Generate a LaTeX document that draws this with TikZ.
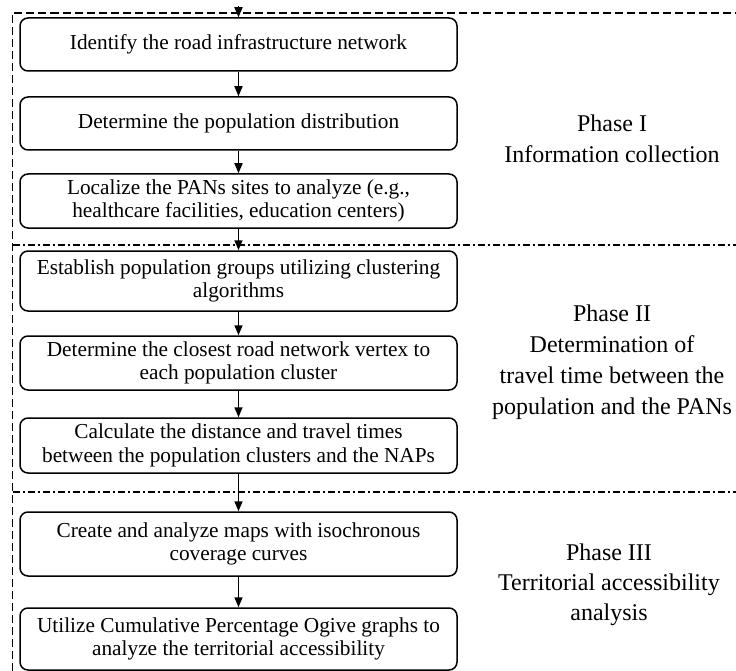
\documentclass[tikz,border=0pt]{standalone}
\usepackage{fontspec}
\setmainfont{Liberation Serif}
\usetikzlibrary{arrows.meta}

\begin{document}
\begin{tikzpicture}[x=1pt,y=-1pt,
  stepbox/.style={draw, line width=1.5pt, rounded corners=8pt, minimum width=437pt, align=center, inner sep=2pt, font=\fontsize{21.3}{23.5}\selectfont},
  phase/.style={align=center, font=\fontsize{24}{31}\selectfont},
  flow/.style={-{Triangle[length=10pt,width=8pt]}, line width=1.5pt},
  border/.style={line width=1.7pt, dash pattern=on 8pt off 4pt},
  split/.style={line width=1.4pt, dash pattern=on 7pt off 3pt on 2pt off 3pt}]
\useasboundingbox (0,0) rectangle (736,671);

\draw[border] (12.5,671) -- (12.5,13) -- (736,13);
\draw[split] (12.5,245) -- (736,245);
\draw[split] (12.5,492) -- (736,492);

\node[stepbox, minimum height=53pt] (identify) at (238.5,44.5) {Identify the road infrastructure network};
\node[stepbox, minimum height=53pt] (distribution) at (238.5,123.5) {Determine the population distribution};
\node[stepbox, minimum height=54pt] (localize) at (238.5,201) {Localize the PANs sites to analyze (e.g.,\\healthcare facilities, education centers)};
\node[stepbox, minimum height=60pt] (groups) at (238.5,281) {Establish population groups utilizing clustering\\algorithms};
\node[stepbox, minimum height=54pt] (vertex) at (238.5,363) {Determine the closest road network vertex to\\each population cluster};
\node[stepbox, minimum height=55pt] (times) at (238.5,445.5) {Calculate the distance and travel times\\between the population clusters and the NAPs};
\node[stepbox, minimum height=64pt] (maps) at (238.5,544) {Create and analyze maps with isochronous\\coverage curves};
\node[stepbox, minimum height=62pt] (ogive) at (238.5,639) {Utilize Cumulative Percentage Ogive graphs to\\analyze the territorial accessibility};

\node[phase] (phaseI) at (612,139) {Phase I\\Information collection};
\node[phase] (phaseII) at (612,362) {Phase II\\Determination of\\travel time between the\\population and the PANs};
\node[phase, font=\fontsize{24}{30}\selectfont] (phaseIII) at (609,585) {Phase III\\Territorial accessibility\\analysis};

\coordinate (entry) at (238.5,6);
\draw[flow] (entry) -- (identify.north);
\draw[flow] (identify.south) -- (distribution.north);
\draw[flow] (distribution.south) -- (localize.north);
\draw[flow] (localize.south) -- (groups.north);
\draw[flow] (groups.south) -- (vertex.north);
\draw[flow] (vertex.south) -- (times.north);
\draw[flow] (times.south) -- (maps.north);
\draw[flow] (maps.south) -- (ogive.north);
\end{tikzpicture}
\end{document}
